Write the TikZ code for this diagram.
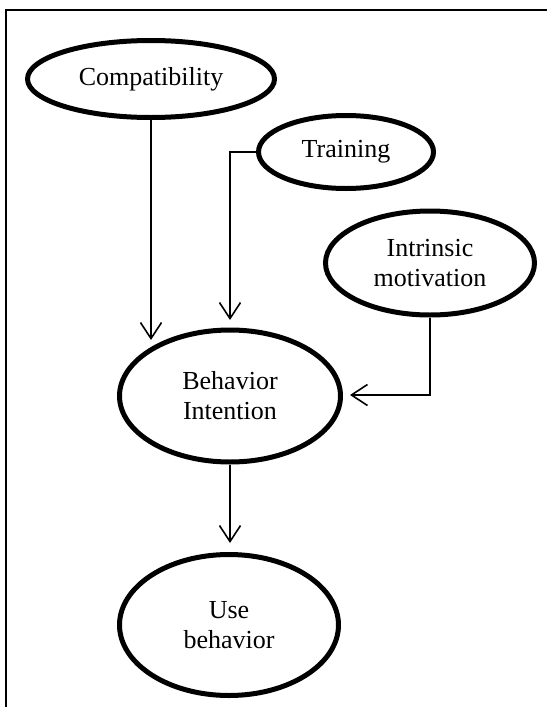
\documentclass[tikz,border=0pt]{standalone}
\usepackage{fontspec}
\setmainfont{Liberation Serif}
\usetikzlibrary{shapes.geometric,arrows.meta}
\begin{document}
\begin{tikzpicture}[x=1pt,y=-1pt,
  oval/.style={ellipse,draw,line width=5pt,inner sep=0pt,align=center,
    font=\fontsize{26}{30}\selectfont},
  conn/.style={line width=1.6pt},
  arr/.style={conn,-{Straight Barb[length=16pt,width=21pt,line width=1.6pt]}}]
\useasboundingbox (0,0) rectangle (547,707);
% frame
\draw[line width=2pt] (6,707) -- (6,10) -- (547,10);
% nodes
\node[oval,minimum width=247pt,minimum height=77pt] (comp) at (151,79) {Compatibility};
\node[oval,minimum width=175pt,minimum height=73pt] (tr) at (346,152) {Training};
\node[oval,minimum width=209pt,minimum height=104pt] (intr) at (430,263) {Intrinsic\\motivation};
\node[oval,minimum width=221pt,minimum height=132pt] (bi) at (230,396) {Behavior\\Intention};
\node[oval,minimum width=219pt,minimum height=141pt] (ub) at (229,625) {Use\\behavior};
% arrow tips
\coordinate (t1) at (151,340);
\coordinate (t2) at (230,320);
\coordinate (t3) at (350,395);
\coordinate (t4) at (230,543);
% connectors
\draw[arr] (comp.south) -- (t1);
\draw[arr] (tr.west) -| (t2);
\draw[arr] (intr.south) |- (t3);
\draw[arr] (bi.south) -- (t4);
\end{tikzpicture}
\end{document}
